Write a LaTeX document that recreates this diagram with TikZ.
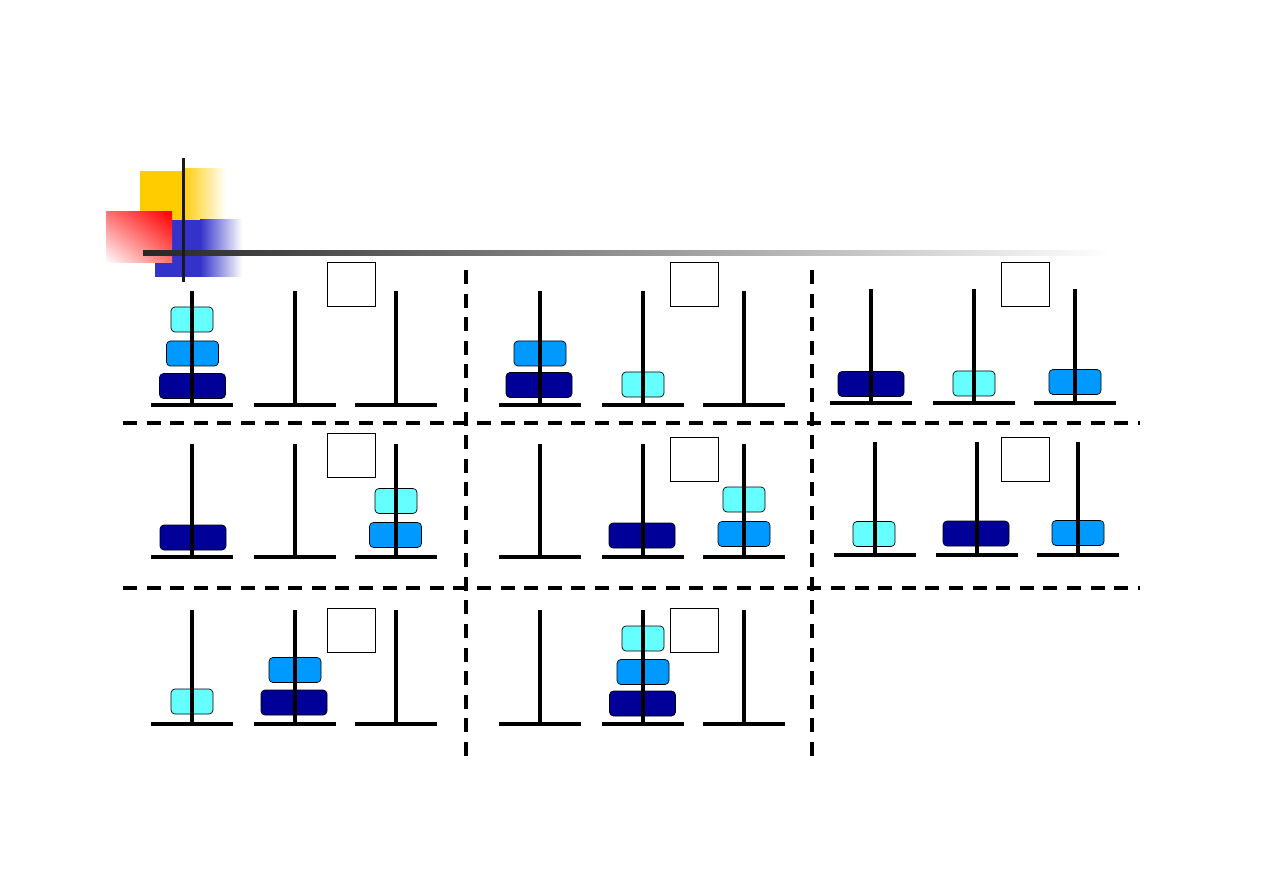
\documentclass[tikz,border=0pt]{standalone}
\usetikzlibrary{calc,shadings}
\definecolor{dsmall}{HTML}{66FFFF}
\definecolor{dmed}{HTML}{0099FF}
\definecolor{dlarge}{HTML}{000099}
\definecolor{hyellow}{HTML}{FFCC00}
\definecolor{hblue}{HTML}{3333CC}
\begin{document}
\begin{tikzpicture}[x=1pt,y=-1pt,
  pole/.style={line width=4.5pt},
  base/.style={line width=4.5pt},
  disk/.style={draw=black,line width=0.7pt,rounded corners=4pt,inner sep=0pt,minimum height=25pt},
  dS/.style={disk,fill=dsmall,minimum width=42pt},
  dM/.style={disk,fill=dmed,minimum width=52pt},
  dL/.style={disk,fill=dlarge,minimum width=66pt},
  sep/.style={line width=3.5pt,dash pattern=on 14pt off 9.6pt},
  lbl/.style={draw=black,line width=0.8pt,minimum width=48pt,minimum height=44pt,inner sep=0pt,fill=white}]
\useasboundingbox (0,0) rectangle (1262,893);
% header decoration
\fill[hyellow] (140,171) rectangle (182,220);
\shade[left color=hyellow,right color=white] (182,169) rectangle (226,220);
\fill[hblue] (155,220) rectangle (200,277);
\shade[left color=hblue,right color=white] (200,220) rectangle (242,277);
\shade[upper right=red,upper left=red!55,lower right=red!55,lower left=white] (106,212) rectangle (172,263);
\shade[left color=black!85,right color=white] (143,251) rectangle (1110,256);
\fill[black!90] (181.5,158) rectangle (184.5,282);
% separators
\coordinate (v1t) at (466,270); \coordinate (v1b) at (466,757);
\coordinate (v2t) at (812,270); \coordinate (v2b) at (812,757);
\coordinate (h1l) at (123,423); \coordinate (h1r) at (1140,423);
\coordinate (h2l) at (123,588); \coordinate (h2r) at (1140,588);
\draw[sep] (v1t) -- (v1b);
\draw[sep] (v2t) -- (v2b);
\draw[sep] (h1l) -- (h1r);
\draw[sep] (h2l) -- (h2r);
% label boxes
\node[lbl] (b1) at (351,284) {};
\node[lbl] (b2) at (694,284) {};
\node[lbl] (b3) at (1025,284) {};
\node[lbl] (b4) at (351,455.5) {};
\node[lbl] (b5) at (694,459) {};
\node[lbl] (b6) at (1025,459) {};
\node[lbl] (b7) at (351,630.5) {};
\node[lbl] (b8) at (694,630.5) {};
% ---- disks
% panel 1
\node[dS] (p1s) at (192,319.5) {};
\node[dM] (p1m) at (192.5,353.5) {};
\node[dL] (p1l) at (192.5,386) {};
% panel 2
\node[dM] (p2m) at (540,353.5) {};
\node[dL] (p2l) at (539,385) {};
\node[dS] (p2s) at (643,384.5) {};
% panel 3
\node[dL] (p3l) at (871,384) {};
\node[dS] (p3s) at (974,383.5) {};
\node[dM] (p3m) at (1075,382) {};
% panel 4
\node[dL] (p4l) at (193,537.5) {};
\node[dS] (p4s) at (396,501) {};
\node[dM] (p4m) at (395.5,535) {};
% panel 5
\node[dL] (p5l) at (642,535.5) {};
\node[dS] (p5s) at (744,499.5) {};
\node[dM] (p5m) at (744,534) {};
% panel 6
\node[dS] (p6s) at (874,534) {};
\node[dL] (p6l) at (976,533.5) {};
\node[dM] (p6m) at (1078,533) {};
% panel 7
\node[dS] (p7s) at (192,701.5) {};
\node[dM] (p7m) at (295,670) {};
\node[dL] (p7l) at (294,702.5) {};
% panel 8
\node[dS] (p8s) at (643,638.5) {};
\node[dM] (p8m) at (643,672) {};
\node[dL] (p8l) at (642.5,703.5) {};
% ---- pegs (poles over disks) and bases
\foreach \x/\t/\b in {192/291/405,295/291/405,396/291/405,
                      540/291/405,643/291/405,744/291/405,
                      871/289/403,974/289/403,1075/289/403,
                      192/444/557,295/444/557,396/444/557,
                      540/444/557,643/444/557,744/444/557,
                      875/442/555,977/442/555,1078/442/555,
                      192/610/724,295/610/724,396/610/724,
                      540/610/724,643/610/724,744/610/724}{
  \draw[pole] (\x,\t) -- (\x,\b);
  \draw[base] (\x-41,\b) -- (\x+41,\b);
}
\end{tikzpicture}
\end{document}
